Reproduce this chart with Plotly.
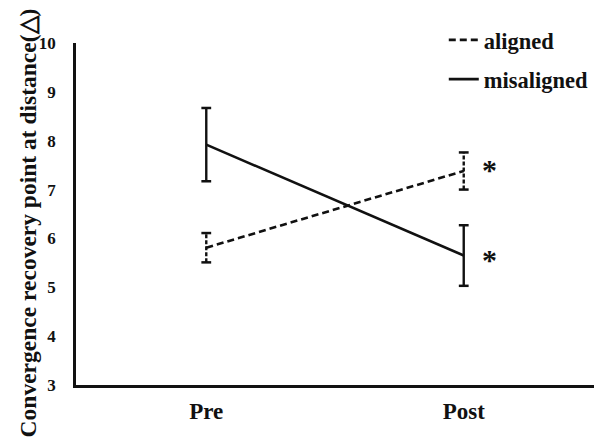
import plotly.graph_objects as go

# Measurement occasions
sessions = ["Pre", "Post"]

# Mean convergence recovery point at distance (prism dioptres) and error bar half-widths
aligned_mean = [5.81, 7.38]
aligned_err = [0.30, 0.38]
misaligned_mean = [7.92, 5.65]
misaligned_err = [0.75, 0.62]

# Significance markers shown beside the Post values
sig_marks = ["*", "*"]

FONT = "Liberation Serif, Times New Roman, serif"
INK = "#111111"

x_pos = list(range(len(sessions)))


def error_segments(means, errs):
    xs, ys = [], []
    for x, m, e in zip(x_pos, means, errs):
        xs += [x, x, None]
        ys += [m - e, m + e, None]
    return xs, ys


def cap_points(means, errs):
    xs, ys = [], []
    for x, m, e in zip(x_pos, means, errs):
        xs += [x, x]
        ys += [m - e, m + e]
    return xs, ys


fig = go.Figure()

series = [
    ("aligned", aligned_mean, aligned_err, "7px,4px", "4px,2px"),
    ("misaligned", misaligned_mean, misaligned_err, "solid", "solid"),
]

for name, means, errs, dash, err_dash in series:
    ex, ey = error_segments(means, errs)
    fig.add_trace(go.Scatter(
        x=ex, y=ey, mode="lines",
        line=dict(color=INK, width=2.4, dash=err_dash),
        showlegend=False, hoverinfo="skip",
    ))
    cx, cy = cap_points(means, errs)
    fig.add_trace(go.Scatter(
        x=cx, y=cy, mode="markers",
        marker=dict(symbol="line-ew", size=7, line=dict(color=INK, width=2.5)),
        showlegend=False, hoverinfo="skip",
    ))
    fig.add_trace(go.Scatter(
        x=x_pos, y=means, mode="lines", name=name,
        legendgroup=name,
        line=dict(color=INK, width=2.6, dash=dash),
    ))

# Asterisks next to the Post means (aligned sits slightly above, misaligned slightly below)
for mark, means, shift in zip(sig_marks, [aligned_mean, misaligned_mean], [2, -4]):
    fig.add_annotation(
        x=x_pos[-1], y=means[-1], text=f"<b>{mark}</b>", showarrow=False,
        xshift=26, yshift=shift,
        font=dict(family=FONT, size=30, color=INK),
    )

# Rotated y-axis title
fig.add_annotation(
    xref="paper", yref="paper", x=-0.093, y=0.475,
    xanchor="center", yanchor="middle",
    text="<b>Convergence recovery point at distance(△)</b>",
    textangle=-90, showarrow=False,
    font=dict(family=FONT, size=23.5, color=INK),
)

fig.update_layout(
    width=602, height=441,
    margin=dict(l=76, r=8, t=43, b=56),
    paper_bgcolor="white", plot_bgcolor="white",
    font=dict(family=FONT, color=INK),
    showlegend=True,
    legend=dict(
        x=0.71, y=1.071, xanchor="left", yanchor="top",
        font=dict(family=FONT, size=22.5, color=INK, weight="bold"),
        tracegroupgap=7, itemwidth=30,
        bgcolor="rgba(0,0,0,0)",
    ),
    xaxis=dict(
        range=[-0.506, 1.506],
        tickmode="array", tickvals=x_pos, ticktext=[f"<b>{s}</b>" for s in sessions],
        tickfont=dict(family=FONT, size=23, color=INK),
        showgrid=False, zeroline=False,
        showline=True, linecolor=INK, linewidth=2.5,
        ticks="", ticklabelstandoff=4,
    ),
    yaxis=dict(
        range=[3, 10], dtick=1,
        tickfont=dict(family=FONT, size=17, color=INK, weight="bold"),
        showgrid=False, zeroline=False,
        showline=True, linecolor=INK, linewidth=2.5,
        ticks="", ticklabelstandoff=14,
    ),
)

fig.write_html("out.html")
